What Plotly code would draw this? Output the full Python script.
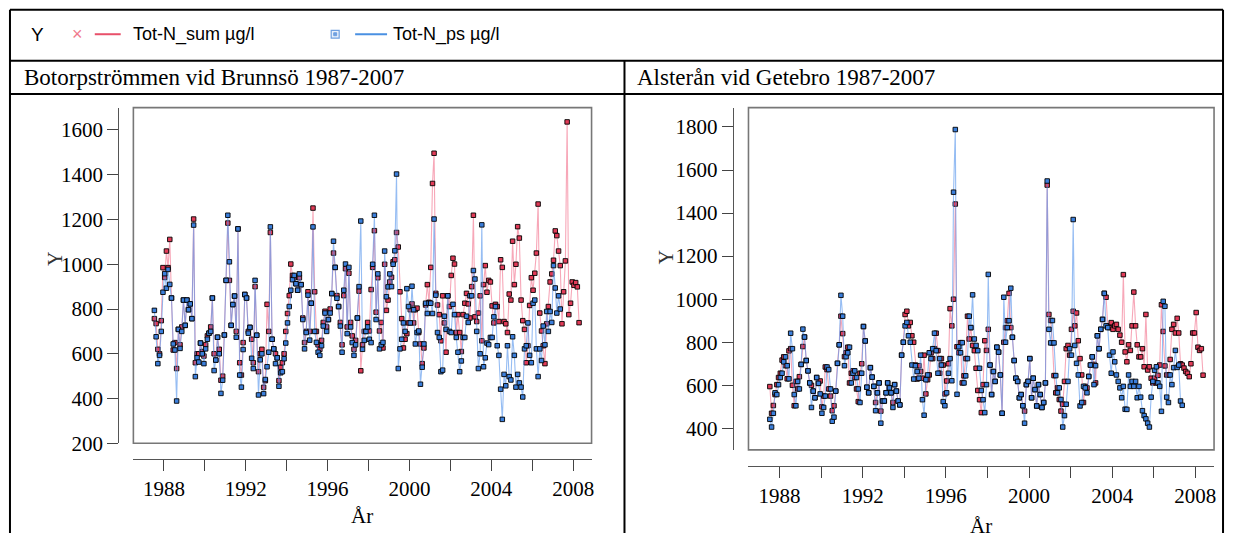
import pandas as pd
import plotly.graph_objects as go

# ---------------- data (monthly, starting July 1987) ----------------
START = "1987-07-01"

# Botorpströmmen vid Brunnsö
botorp_sum = [
    757, 735, 620, 600, 748, 985,
    941, 1059, 985, 1111, 849, 617, 650, 534, 709, 640, 720, 840,
    727, 840, 797, 823, 757, 1202, 560, 600, 600, 648, 610, 590,
    640, 680, 692, 720, 849, 600, 572, 674, 620, 482, 500, 684,
    928, 1184, 928, 727, 820, 858, 700, 1158, 560, 505, 650, 865,
    849, 700, 718, 665, 560, 900, 683, 520, 600, 620, 450, 480,
    821, 700, 1142, 665, 622, 600, 582, 480, 540, 560, 600, 700,
    780, 860, 1001, 950, 940, 913, 884, 940, 909, 760, 650, 700,
    877, 700, 826, 1251, 877, 700, 640, 620, 660, 740, 790, 720,
    753, 800, 869, 1050, 986, 860, 811, 740, 640, 860, 980, 720,
    960, 740, 680, 620, 660, 760, 880, 524, 640, 700, 700, 740,
    702, 887, 986, 1150, 786, 940, 702, 740, 626, 1000, 794, 840,
    921, 942, 1011, 1020, 1142, 1077, 877, 757, 626, 665, 690, 738,
    797, 823, 738, 797, 804, 695, 644, 556, 626, 818, 909, 830,
    986, 1361, 1496, 870, 818, 775, 658, 859, 738, 607, 859, 811,
    950, 1027, 1001, 695, 775, 695, 610, 775, 826, 870, 823, 760,
    900, 1219, 765, 744, 782, 859, 658, 909, 994, 875, 928, 921,
    814, 738, 821, 811, 744, 1020, 986, 744, 734, 695, 867, 840,
    1103, 909, 1000, 1168, 1117, 840, 748, 709, 560, 636, 816, 940,
    884, 960, 1050, 1269, 782, 702, 636, 556, 734, 811, 921, 957,
    1018, 1149, 1128, 1059, 994, 734, 877, 1015, 1636, 775, 826, 921,
    906, 918, 899, 739,
]
botorp_ps = [
    794, 676, 556, 593, 700, 875,
    958, 893, 977, 910, 849, 644, 617, 389, 709, 624, 700, 840,
    727, 840, 797, 823, 757, 1175, 498, 582, 563, 648, 600, 556,
    622, 665, 692, 700, 849, 525, 572, 674, 600, 423, 482, 684,
    928, 1219, 1011, 727, 820, 858, 674, 1158, 505, 451, 619, 865,
    849, 692, 718, 580, 534, 928, 683, 416, 573, 600, 422, 485,
    542, 607, 1167, 665, 622, 556, 582, 455, 515, 520, 578, 648,
    738, 811, 884, 931, 950, 913, 884, 957, 909, 753, 622, 695,
    862, 661, 826, 1167, 700, 651, 607, 593, 636, 724, 782, 700,
    753, 782, 869, 1103, 986, 848, 811, 724, 607, 884, 1001, 690,
    986, 720, 650, 593, 640, 760, 900, 1193, 620, 660, 700, 720,
    665, 650, 1000, 1219, 753, 957, 622, 640, 651, 1059, 855, 899,
    957, 900, 1000, 1060, 1403, 534, 622, 665, 738, 700, 891, 811,
    738, 902, 797, 644, 695, 702, 464, 540, 644, 826, 780, 826,
    826, 780, 1202, 862, 695, 673, 520, 527, 768, 709, 859, 700,
    695, 821, 775, 673, 607, 520, 568, 673, 673, 768, 740, 859,
    859, 972, 934, 700, 534, 600, 1176, 542, 582, 648, 641, 673,
    673, 765, 811, 636, 593, 442, 307, 508, 457, 636, 498, 483,
    676, 593, 451, 508, 470, 451, 407, 622, 636, 738, 593, 560,
    826, 840, 622, 498, 622, 570, 724, 640, 789, 700, 789, 740,
    994, 894, 782, 859, 800,
]

# Alsterån vid Getebro
alster_sum = [
    594, 470, 506, 557, 603, 636,
    656, 717, 732, 691, 630, 760, 770, 600, 505, 618, 583, 640,
    697, 780, 824, 715, 667, 611, 600, 573, 542, 636, 609, 620,
    500, 550, 685, 673, 583, 550, 482, 505, 573, 702, 788, 921,
    840, 733, 751, 777, 611, 656, 667, 636, 583, 524, 656, 700,
    873, 806, 591, 565, 682, 638, 595, 520, 565, 611, 480, 527,
    527, 565, 611, 588, 565, 520, 603, 573, 527, 509, 740, 800,
    929, 944, 876, 892, 830, 800, 694, 629, 691, 664, 633, 740,
    560, 626, 648, 751, 724, 770, 842, 761, 656, 724, 694, 560,
    620, 700, 956, 876, 1000, 1442, 779, 751, 798, 611, 644, 724,
    921, 815, 868, 785, 761, 679, 576, 533, 473, 603, 807, 762,
    860, 694, 557, 664, 618, 777, 754, 648, 470, 800, 868, 900,
    1027, 868, 823, 715, 633, 618, 542, 557, 505, 480, 603, 618,
    724, 542, 633, 580, 504, 603, 557, 497, 520, 611, 1530, 929,
    901, 797, 645, 565, 588, 534, 480, 512, 618, 770, 785, 740,
    860, 944, 876, 936, 807, 724, 648, 520, 595, 588, 641, 694,
    732, 697, 611, 830, 770, 860, 906, 1027, 1009, 876, 868, 891,
    860, 876, 883, 860, 833, 800, 1114, 755, 709, 788, 762, 876,
    1033, 876, 788, 732, 732, 770, 686, 929, 671, 686, 633, 611,
    633, 611, 646, 694, 974, 850, 690, 648, 648, 720, 860, 883,
    843, 911, 843, 700, 694, 680, 664, 656, 640, 700, 843, 843,
    938, 777, 762, 770, 647,
]
alster_ps = [
    442, 406, 470, 565, 557, 603,
    636, 656, 709, 732, 691, 630, 842, 770, 557, 505, 618, 583,
    697, 861, 824, 715, 667, 611, 497, 573, 542, 636, 609, 560,
    470, 497, 550, 685, 673, 583, 433, 452, 573, 702, 788, 1018,
    921, 691, 733, 751, 777, 611, 656, 667, 636, 583, 520, 656,
    873, 806, 591, 565, 682, 638, 595, 482, 565, 611, 424, 527,
    527, 565, 611, 588, 565, 497, 603, 573, 527, 509, 740, 800,
    876, 892, 830, 800, 694, 629, 691, 664, 633, 740, 533, 461,
    626, 648, 751, 724, 770, 842, 761, 656, 724, 694, 524, 505,
    565, 656, 724, 621, 1497, 1788, 558, 779, 751, 798, 611, 644,
    724, 921, 868, 1020, 815, 785, 761, 679, 576, 533, 473, 603,
    1115, 694, 557, 664, 618, 777, 754, 648, 470, 1009, 800, 868,
    900, 1051, 823, 715, 633, 618, 542, 557, 505, 424, 603, 618,
    724, 542, 633, 580, 504, 603, 557, 497, 520, 611, 1549, 860,
    797, 901, 797, 645, 565, 588, 534, 406, 459, 512, 618, 770,
    740, 1370, 785, 702, 648, 504, 520, 595, 588, 565, 641, 694,
    732, 603, 691, 830, 770, 860, 906, 1027, 876, 868, 740, 656,
    755, 709, 648, 618, 588, 542, 595, 489, 488, 648, 595, 618,
    595, 618, 542, 595, 545, 482, 459, 444, 424, 406, 545, 618,
    670, 686, 611, 595, 479, 990, 967, 545, 520, 648, 603, 682,
    762, 683, 694, 527, 507,
]

titles = ["Botorpströmmen vid Brunnsö 1987-2007", "Alsterån vid Getebro 1987-2007"]
year_ticks = list(range(1988, 2009, 2))
y_ticks_left = [200, 400, 600, 800, 1000, 1200, 1400, 1600]
y_ticks_right = [400, 600, 800, 1000, 1200, 1400, 1600, 1800]
legend_labels = ["Tot-N_sum µg/l", "Tot-N_ps µg/l"]


def months(n):
    return pd.date_range(START, periods=n, freq="MS") + pd.Timedelta(days=14)


W, H = 1236, 545
px = lambda v: v / W
py = lambda v: 1 - v / H

RED_LINE = "rgba(240,95,125,0.55)"
BLUE_LINE = "rgba(80,145,235,0.6)"
RED_MK = "#e23b58"
BLUE_MK = "#3b7fdc"
SERIF = "Liberation Serif"
SANS = "Liberation Sans"

fig = go.Figure()


def add_pair(sum_vals, ps_vals, xa, ya):
    fig.add_trace(go.Scatter(
        x=months(len(sum_vals)), y=sum_vals, mode="lines+markers", xaxis=xa, yaxis=ya,
        line=dict(color=RED_LINE, width=1.1),
        marker=dict(symbol="square", size=4.5, color=RED_MK, line=dict(color="black", width=0.9)),
        showlegend=False, hoverinfo="skip"))
    fig.add_trace(go.Scatter(
        x=months(len(ps_vals)), y=ps_vals, mode="lines+markers", xaxis=xa, yaxis=ya,
        line=dict(color=BLUE_LINE, width=1.1),
        marker=dict(symbol="square", size=4.5, color=BLUE_MK, line=dict(color="black", width=0.9)),
        showlegend=False, hoverinfo="skip"))


add_pair(botorp_sum, botorp_ps, "x", "y")
add_pair(alster_sum, alster_ps, "x2", "y2")

xr = ["1986-07-05", "2008-11-24"]
tickvals = [f"{y}-01-01" for y in year_ticks]
ticktext = [str(y) if y % 4 == 0 else "" for y in year_ticks]


def xaxis_cfg(dom, pos):
    return dict(type="date", range=xr, tickmode="array", tickvals=tickvals, ticktext=ticktext,
                ticks="outside", ticklen=11, tickcolor="#444", tickwidth=1.2,
                showline=True, linecolor="#555", linewidth=1.3, showgrid=False,
                zeroline=False, tickfont=dict(family=SERIF, size=21, color="black"),
                anchor="free", position=pos, domain=dom, fixedrange=True)


def yaxis_cfg(dom, pos, rng, tv):
    return dict(range=rng, tickmode="array", tickvals=tv, ticktext=[str(v) for v in tv],
                ticks="outside", ticklen=11, tickcolor="#444", tickwidth=1.2,
                showline=True, linecolor="#555", linewidth=1.3, showgrid=False,
                zeroline=False, tickfont=dict(family=SERIF, size=21, color="black"),
                anchor="free", position=pos, domain=dom, fixedrange=True)


fig.update_layout(
    width=W, height=H, margin=dict(l=0, r=0, t=0, b=0),
    paper_bgcolor="white", plot_bgcolor="white",
    font=dict(family=SERIF, size=21, color="black"),
    xaxis=xaxis_cfg([px(133.7), px(593)], py(469.3)),
    yaxis=yaxis_cfg([py(453.3), py(110)], px(118.7), [200, 1700], y_ticks_left),
    xaxis2=xaxis_cfg([px(750.3), px(1217)], py(476)),
    yaxis2=yaxis_cfg([py(460), py(110)], px(734.7), [300, 1890], y_ticks_right),
)

shapes = []
for xa, ya in (("x", "y"), ("x2", "y2")):
    shapes.append(dict(type="rect", xref=f"{xa} domain", yref=f"{ya} domain",
                       x0=0, x1=1, y0=0, y1=1, line=dict(color="#777", width=1.6)))
blk = dict(color="black", width=2)


def pline(x0, y0, x1, y1, line):
    return dict(type="line", xref="paper", yref="paper",
                x0=px(x0), x1=px(x1), y0=py(y0), y1=py(y1), line=line)


shapes += [
    pline(10, 10, 1226, 10, blk),
    pline(10, 10, 10, 545, blk),
    pline(1226, 10, 1226, 545, blk),
    pline(10, 62, 1226, 62, blk),
    pline(10, 96, 1226, 96, blk),
    pline(626, 62, 626, 545, blk),
    pline(95, 35, 121, 35, dict(color="#e8506a", width=2)),
    pline(356, 35, 388, 35, dict(color="#4a90e2", width=2)),
    dict(type="rect", xref="paper", yref="paper", x0=px(332), x1=px(340), y0=py(31), y1=py(39),
         line=dict(color="#6fa0e0", width=1.2), fillcolor="#e8f0fb"),
    dict(type="rect", xref="paper", yref="paper", x0=px(334.5), x1=px(337.5), y0=py(33.5), y1=py(36.5),
         line=dict(color="#6fa0e0", width=1), fillcolor="#6fa0e0"),
]
fig.update_layout(shapes=shapes)


def label(x, y, text, font, xanchor="center", angle=0):
    return dict(x=px(x), y=py(y), text=text, showarrow=False, xref="paper", yref="paper",
                xanchor=xanchor, yanchor="middle", textangle=angle, font=font)


ann = [
    label(38, 35, "Y", dict(family=SANS, size=19, color="black")),
    label(78, 35, "×", dict(family=SANS, size=18, color="#f07a8c")),
    label(131, 35, legend_labels[0], dict(family=SANS, size=18, color="black"), "left"),
    label(392, 35, legend_labels[1], dict(family=SANS, size=18, color="black"), "left"),
    label(22, 79, titles[0], dict(family=SERIF, size=23, color="black"), "left"),
    label(637, 79, titles[1], dict(family=SERIF, size=23, color="black"), "left"),
    label(55, 265, "Y", dict(family=SERIF, size=20, color="#333"), "center", -90),
    label(668, 263, "Y", dict(family=SERIF, size=20, color="#333"), "center", -90),
    label(363, 528, "År", dict(family=SERIF, size=21, color="black")),
    label(983, 538, "År", dict(family=SERIF, size=21, color="black")),
]
fig.update_layout(annotations=ann)

fig.write_html("out.html")
